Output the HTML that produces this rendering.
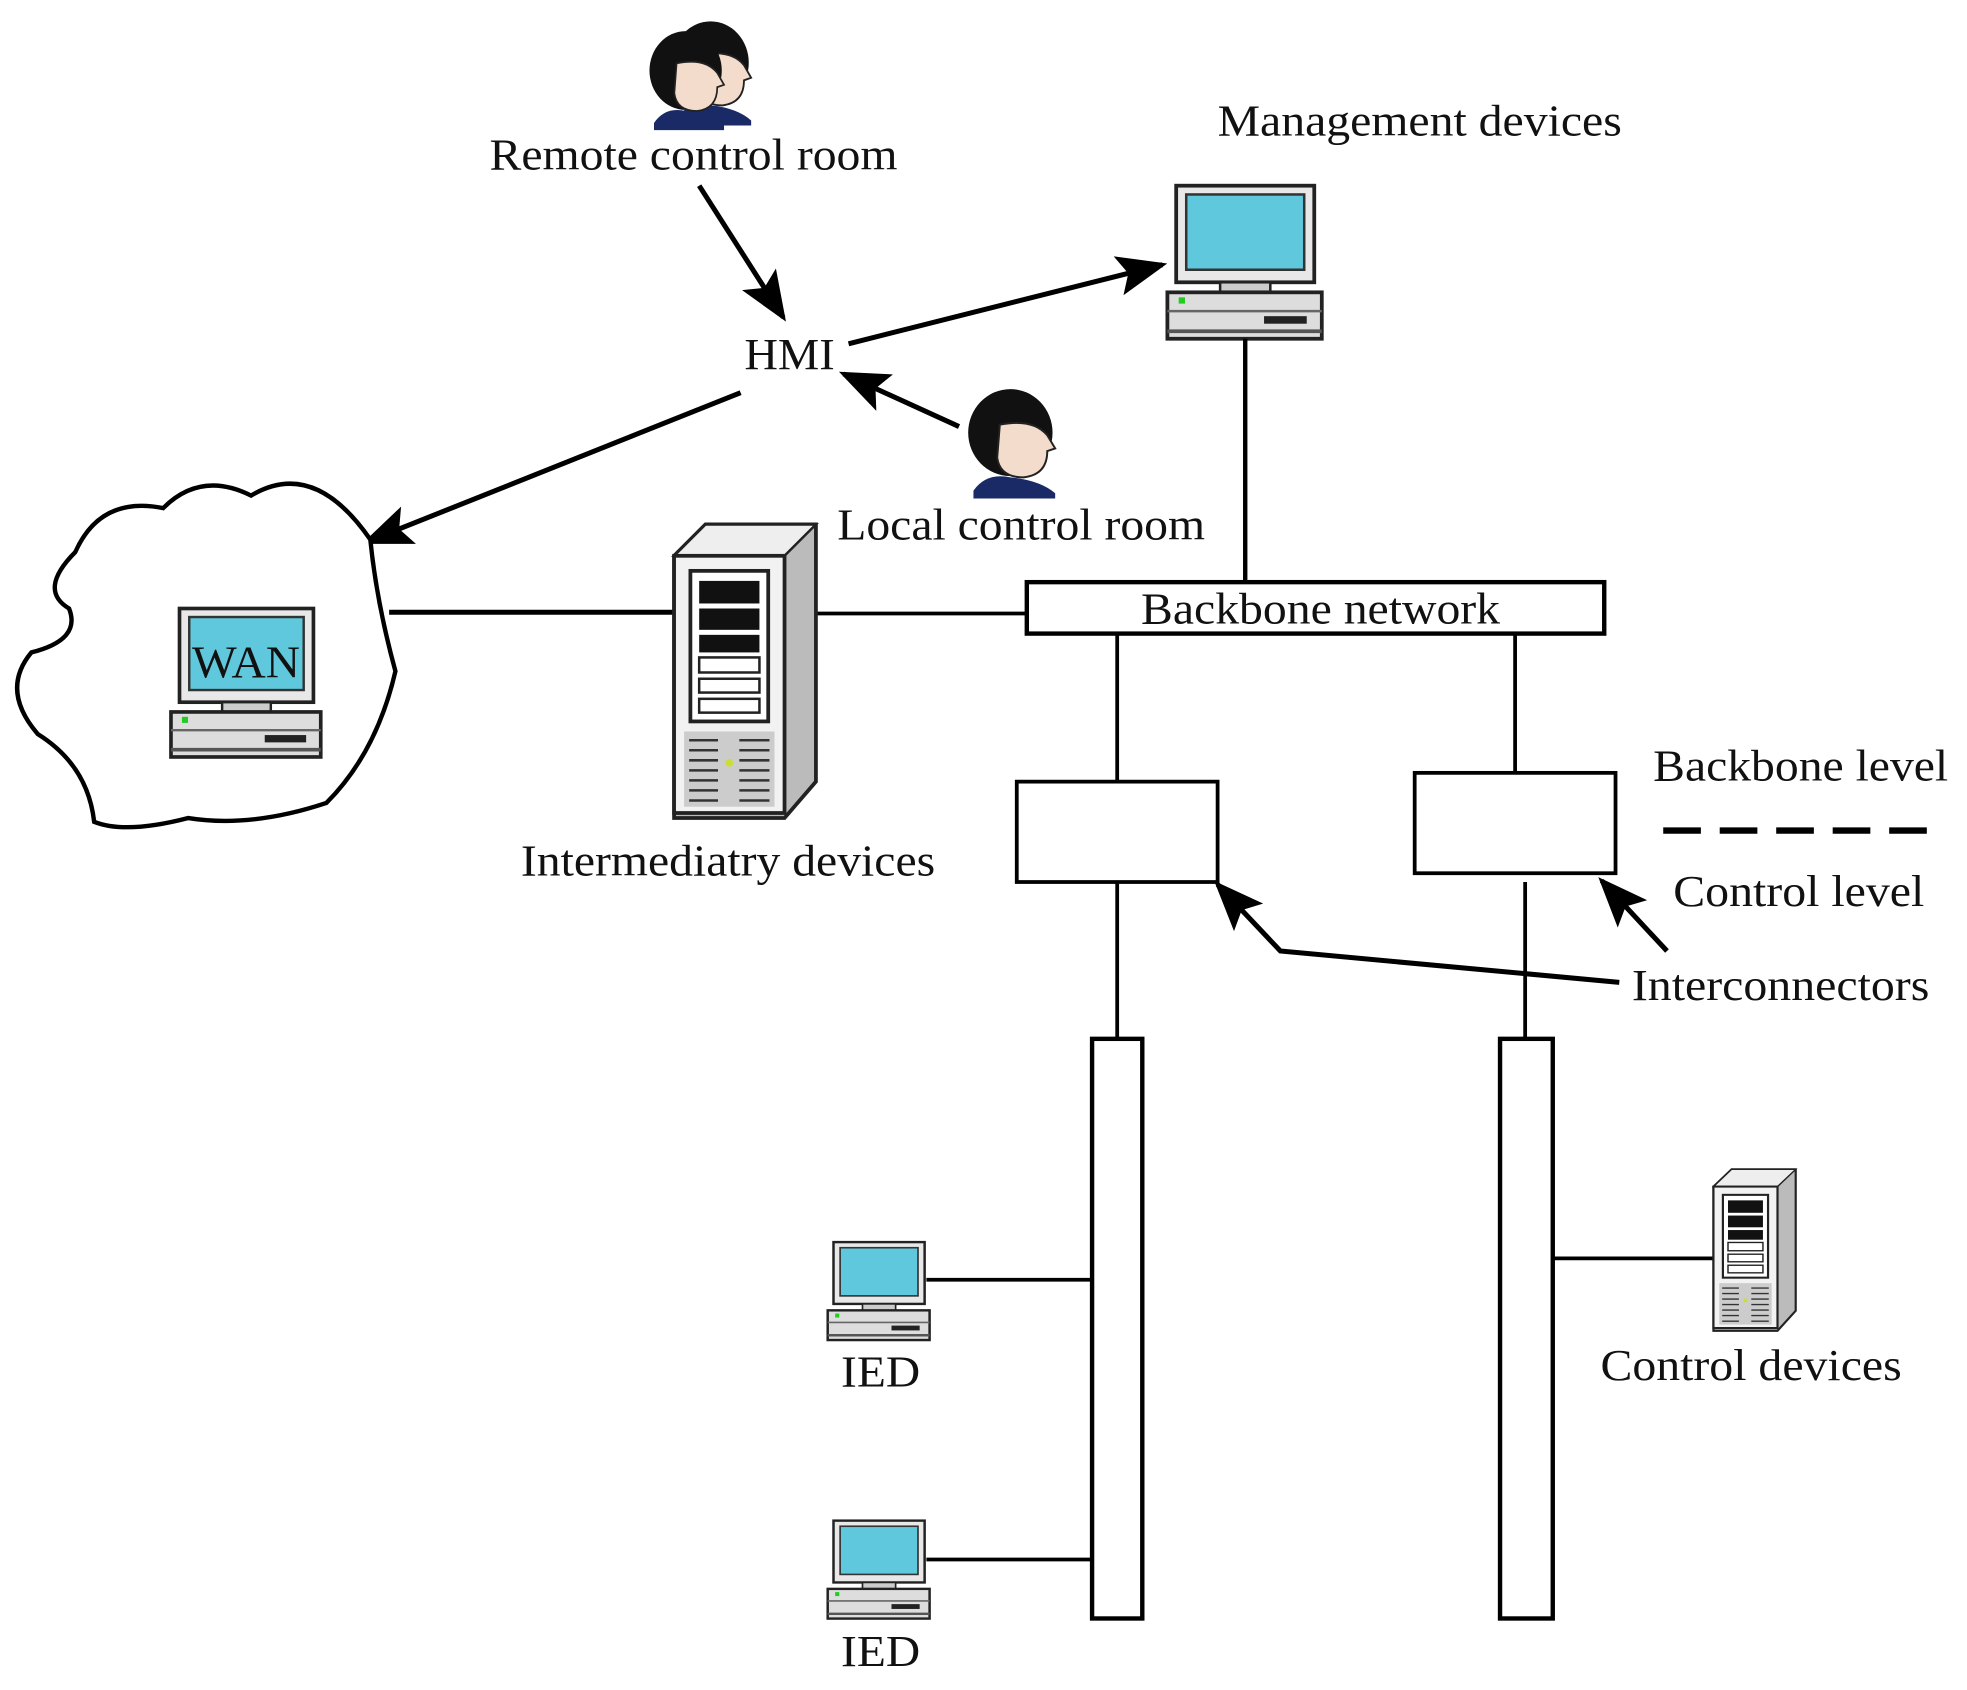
<!DOCTYPE html>
<html><head><meta charset="utf-8"><style>
html,body{margin:0;padding:0;background:#fff;}
svg{display:block;}
text{font-family:"Liberation Serif",serif;fill:#111;}
</style></head><body>
<svg width="1967" height="1690" viewBox="0 0 1567 1347" preserveAspectRatio="none" xmlns="http://www.w3.org/2000/svg">
<defs>
<marker id="ah" markerWidth="10" markerHeight="8" refX="9" refY="4" orient="auto" markerUnits="strokeWidth">
<path d="M0,0 L10,4 L0,8 L2,4 z" fill="#000"/>
</marker>
<g id="pc">
<!-- monitor 0..110 x, 0..77 y ; base -7..116, 85..122 -->
<rect x="0" y="0" width="110" height="77" fill="#e8e8e8" stroke="#222" stroke-width="3"/>
<rect x="8" y="7" width="94" height="60" fill="#5fc8dc" stroke="#333" stroke-width="2"/>
<rect x="35" y="77" width="40" height="8" fill="#ccc" stroke="#222" stroke-width="2"/>
<rect x="-7" y="85" width="123" height="37" fill="#ddd" stroke="#222" stroke-width="3"/>
<line x1="-7" y1="100" x2="116" y2="100" stroke="#666" stroke-width="2"/>
<rect x="2" y="89" width="5" height="5" fill="#2c2"/>
<rect x="70" y="104" width="34" height="6" fill="#222"/>
<line x1="-7" y1="116" x2="116" y2="116" stroke="#555" stroke-width="3"/>
</g>
<g id="srv">
<!-- 0..113 x 0..234 y -->
<path d="M0,25 L25,0 L113,0 L113,205 L88,234 L0,234 z" fill="#bbb" stroke="#222" stroke-width="3"/>
<path d="M0,25 L25,0 L113,0 L88,25 z" fill="#eee" stroke="#222" stroke-width="2"/>
<rect x="0" y="25" width="88" height="205" fill="#f2f2f2" stroke="#222" stroke-width="3"/>
<rect x="13" y="37" width="62" height="120" fill="#fff" stroke="#222" stroke-width="3"/>
<rect x="20" y="45" width="48" height="18" fill="#111"/>
<rect x="20" y="67" width="48" height="17" fill="#111"/>
<rect x="20" y="88" width="48" height="14" fill="#111"/>
<rect x="20" y="106" width="48" height="12" fill="#fff" stroke="#222" stroke-width="2"/>
<rect x="20" y="123" width="48" height="11" fill="#fff" stroke="#222" stroke-width="2"/>
<rect x="20" y="139" width="48" height="11" fill="#fff" stroke="#222" stroke-width="2"/>
<rect x="8" y="165" width="72" height="60" fill="#ccc"/>
<g stroke="#333" stroke-width="2">
<line x1="12" y1="172" x2="35" y2="172"/><line x1="52" y1="172" x2="76" y2="172"/>
<line x1="12" y1="180" x2="35" y2="180"/><line x1="52" y1="180" x2="76" y2="180"/>
<line x1="12" y1="188" x2="35" y2="188"/><line x1="52" y1="188" x2="76" y2="188"/>
<line x1="12" y1="196" x2="35" y2="196"/><line x1="52" y1="196" x2="76" y2="196"/>
<line x1="12" y1="204" x2="35" y2="204"/><line x1="52" y1="204" x2="76" y2="204"/>
<line x1="12" y1="212" x2="35" y2="212"/><line x1="52" y1="212" x2="76" y2="212"/>
<line x1="12" y1="220" x2="35" y2="220"/><line x1="52" y1="220" x2="76" y2="220"/>
</g>
<circle cx="44" cy="190" r="3" fill="#cd3"/>
</g>
<g id="head">
<ellipse cx="38" cy="36" rx="32" ry="33" fill="#111"/>
<path d="M30,30 Q55,25 66,38 L72,48 L66,50 Q66,68 48,70 Q30,70 28,55 z" fill="#f3dccb" stroke="#222" stroke-width="1.5"/>
<path d="M10,80 Q20,66 38,70 Q60,72 72,82 L72,86 L10,86 z" fill="#1a2a66"/>
</g>
</defs>

<!-- remote persons -->
<use href="#head" transform="translate(530,14) scale(0.95,1)"/>
<use href="#head" transform="translate(512,22) scale(0.9,0.95)"/>
<text x="390" y="135" font-size="35" textLength="325" lengthAdjust="spacingAndGlyphs">Remote control room</text>

<!-- local person -->
<use href="#head" transform="translate(765,307) scale(1.05,1.05)"/>
<text x="667" y="430" font-size="35" textLength="293" lengthAdjust="spacingAndGlyphs">Local control room</text>

<text x="593" y="294" font-size="35" textLength="72" lengthAdjust="spacingAndGlyphs">HMI</text>

<g stroke="#000" stroke-width="4" fill="none">
<line x1="557" y1="148" x2="624" y2="253" marker-end="url(#ah)"/>
<line x1="676" y1="274" x2="926" y2="211" marker-end="url(#ah)"/>
<line x1="764" y1="340" x2="672" y2="298" marker-end="url(#ah)"/>
<line x1="590" y1="313" x2="292" y2="432" marker-end="url(#ah)"/>
</g>

<!-- management -->
<text x="970" y="108" font-size="35" textLength="322" lengthAdjust="spacingAndGlyphs">Management devices</text>
<use href="#pc" transform="translate(937,148)"/>
<line x1="992" y1="270" x2="992" y2="463" stroke="#000" stroke-width="3.5"/>

<!-- cloud -->
<path d="M60,440 Q80,395 130,405 Q160,375 200,395 Q250,365 295,430 Q300,480 315,535 Q300,600 260,640 Q200,660 150,652 Q100,665 75,655 Q70,610 30,585 Q0,550 25,520 Q65,510 55,485 Q30,470 60,440 z" fill="#fff" stroke="#000" stroke-width="3.5"/>
<use href="#pc" transform="translate(143,485) scale(0.97,0.97)"/>
<text x="153" y="540" font-size="36" textLength="86" lengthAdjust="spacingAndGlyphs">WAN</text>

<!-- links -->
<line x1="310" y1="488" x2="538" y2="488" stroke="#000" stroke-width="4"/>
<line x1="650" y1="489" x2="818" y2="489" stroke="#000" stroke-width="3"/>
<use href="#srv" transform="translate(537,418)"/>
<text x="415" y="698" font-size="35" textLength="330" lengthAdjust="spacingAndGlyphs">Intermediatry devices</text>

<!-- backbone -->
<rect x="818" y="464" width="460" height="41" fill="#fff" stroke="#000" stroke-width="3.5"/>
<text x="909" y="497" font-size="35" textLength="286" lengthAdjust="spacingAndGlyphs">Backbone network</text>

<g stroke="#000" stroke-width="3" fill="none">
<line x1="890" y1="505" x2="890" y2="623"/>
<line x1="1207" y1="505" x2="1207" y2="616"/>
<rect x="810" y="623" width="160" height="80" fill="#fff"/>
<rect x="1127" y="616" width="160" height="80" fill="#fff"/>
<line x1="890" y1="703" x2="890" y2="828"/>
<line x1="1215" y1="703" x2="1215" y2="828"/>
<rect x="870" y="828" width="40" height="462" fill="#fff" stroke-width="3.5"/>
<rect x="1195" y="828" width="42" height="462" fill="#fff" stroke-width="3.5"/>
<line x1="738" y1="1020" x2="870" y2="1020"/>
<line x1="738" y1="1243" x2="870" y2="1243"/>
<line x1="1237" y1="1003" x2="1366" y2="1003"/>
</g>

<text x="1317" y="622" font-size="35" textLength="235" lengthAdjust="spacingAndGlyphs">Backbone level</text>
<line x1="1325" y1="662" x2="1550" y2="662" stroke="#000" stroke-width="5" stroke-dasharray="30,15"/>
<text x="1333" y="722" font-size="35" textLength="200" lengthAdjust="spacingAndGlyphs">Control level</text>
<text x="1300" y="797" font-size="35" textLength="237" lengthAdjust="spacingAndGlyphs">Interconnectors</text>

<g stroke="#000" stroke-width="4" fill="none">
<polyline points="1290,783 1020,758 970,705" marker-end="url(#ah)"/>
<line x1="1328" y1="758" x2="1276" y2="702" marker-end="url(#ah)"/>
</g>

<!-- IEDs -->
<use href="#pc" transform="translate(664,990) scale(0.66,0.64)"/>
<text x="670" y="1105" font-size="35" textLength="63" lengthAdjust="spacingAndGlyphs">IED</text>
<use href="#pc" transform="translate(664,1212) scale(0.66,0.64)"/>
<text x="670" y="1328" font-size="35" textLength="63" lengthAdjust="spacingAndGlyphs">IED</text>

<!-- control device -->
<use href="#srv" transform="translate(1365,932) scale(0.58,0.55)"/>
<text x="1275" y="1100" font-size="35" textLength="240" lengthAdjust="spacingAndGlyphs">Control devices</text>
</svg>
</body></html>
